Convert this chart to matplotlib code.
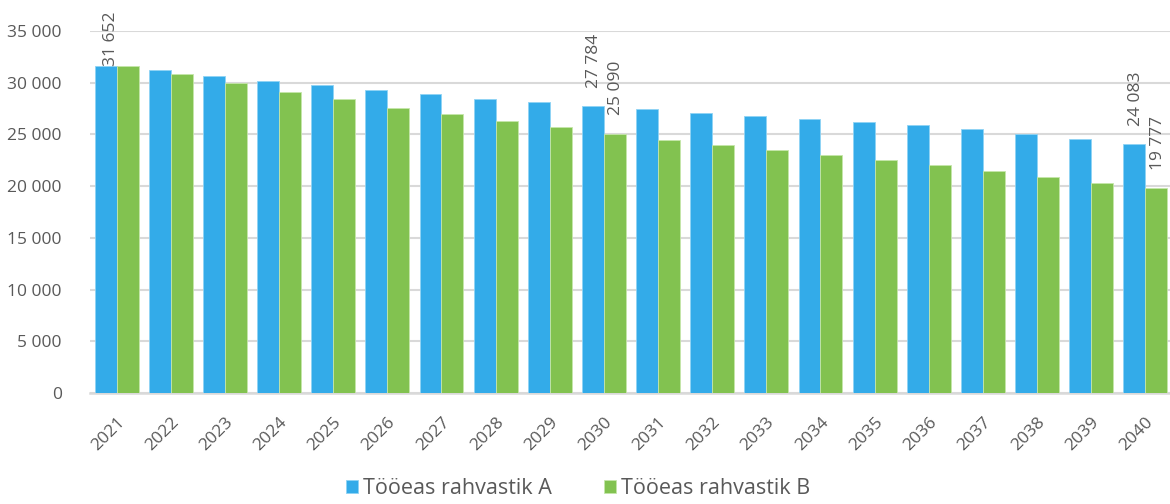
import matplotlib
matplotlib.use("Agg")
import matplotlib.pyplot as plt
import numpy as np

years = [str(y) for y in range(2021, 2041)]
series_a = [31652, 31190, 30670, 30130, 29750, 29270, 28880, 28460, 28170, 27784,
            27440, 27050, 26830, 26540, 26230, 25930, 25520, 25040, 24590, 24083]
series_b = [31652, 30840, 29970, 29130, 28400, 27590, 26960, 26280, 25740, 25090,
            24480, 23970, 23490, 23000, 22570, 22070, 21490, 20860, 20350, 19777]
name_a = "Tööeas rahvastik A"
name_b = "Tööeas rahvastik B"
labeled_a = [0, 9, 19]
labeled_b = [9, 19]

def fmt(v):
    return f"{v:,}".replace(",", " ")

plt.rcParams['font.family'] = ['Open Sans', 'DejaVu Sans']
text_color = "#595959"
blue = "#33ABE9"
green = "#82C250"

fig = plt.figure(figsize=(11.7, 5.04), dpi=100)
ax = fig.add_axes([0.0765, 0.2202, 0.9256, 0.7183])

x = np.arange(len(years))
w = 0.405
ba = ax.bar(x - w/2, series_a, w, color=blue, edgecolor="#8fd3f5", linewidth=0.6, label=name_a, zorder=3)
bb = ax.bar(x + w/2, series_b, w, color=green, edgecolor="#c5e6aa", linewidth=0.6, label=name_b, zorder=3)

ax.set_xlim(-0.5, len(years) - 0.5)
ax.set_ylim(0, 35000)
ax.set_yticks(range(0, 35001, 5000))
ax.set_yticklabels([fmt(v) for v in range(0, 35001, 5000)])
ax.yaxis.grid(True, color="#d9d9d9", linewidth=1.5, zorder=0)
ax.set_axisbelow(True)
for s in ["top", "right", "left"]:
    ax.spines[s].set_visible(False)
ax.spines["bottom"].set_color("#d9d9d9")
ax.spines["bottom"].set_linewidth(1.8)
ax.tick_params(axis="y", length=0, labelsize=12.5, labelcolor=text_color, pad=20)
ax.tick_params(axis="x", length=0, labelsize=12.5, labelcolor=text_color, pad=15)
ax.set_xticks(x)
ax.set_xticklabels(years, rotation=45, ha="right", rotation_mode="anchor")

lbl_fs = 12.5
for i in labeled_a:
    if i == 0:
        ax.annotate(fmt(series_a[i]), (x[i] - w/2, series_a[i]), xytext=(4, 0),
                    textcoords="offset points", rotation=90, ha="center", va="bottom",
                    fontsize=lbl_fs, color=text_color, annotation_clip=False)
    else:
        ax.annotate(fmt(series_a[i]), (x[i] - w/2, series_a[i]), xytext=(1, 13),
                    textcoords="offset points", rotation=90, ha="center", va="bottom",
                    fontsize=lbl_fs, color=text_color, annotation_clip=False)
for i in labeled_b:
    ax.annotate(fmt(series_b[i]), (x[i] + w/2, series_b[i]), xytext=(1, 13),
                textcoords="offset points", rotation=90, ha="center", va="bottom",
                fontsize=lbl_fs, color=text_color, annotation_clip=False)

fig.legend(handles=[ba, bb], labels=[name_a, name_b], loc="center", bbox_to_anchor=(0.494, 0.03),
           ncol=2, frameon=False, fontsize=15.5, labelcolor=text_color,
           handlelength=0.55, handleheight=0.55, handletextpad=0.25, columnspacing=2.4,
           borderpad=0.1)

fig.savefig("out.png", dpi=100)
